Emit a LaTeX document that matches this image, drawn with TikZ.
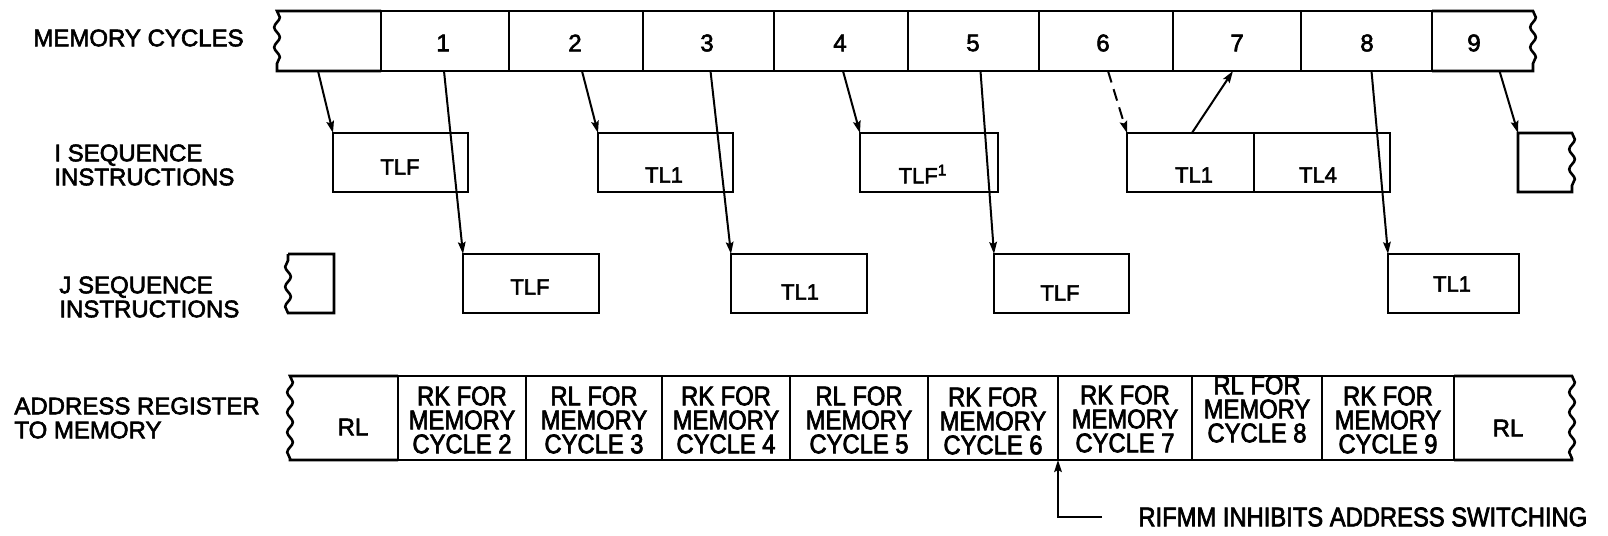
\documentclass[tikz,border=0pt]{standalone}
\usepackage{fontspec}
\setmainfont{Liberation Sans}[FakeBold=2.5]
\newfontfamily\narrowsans{Liberation Sans}[FakeStretch=0.88, FakeBold=2.5]
\usetikzlibrary{positioning, arrows.meta, decorations.pathmorphing}

\begin{document}
\begin{tikzpicture}[x=0.5pt, y=-0.5pt, >=Stealth,
    font=\fontsize{12}{12}\selectfont,
    box/.style={draw, line width=1.3pt, inner sep=0pt, outer sep=0pt},
    ghost/.style={inner sep=0pt, outer sep=0pt},
    frame/.style={line width=1.3pt},
    wave/.style={decoration={snake, amplitude=1.4pt, segment length=10pt}},
    tag/.style={inner sep=0pt, font=\fontsize{11}{12}\selectfont},
    cellnote/.style={inner sep=0pt, align=center, font=\narrowsans\fontsize{13.5}{12}\selectfont},
    link/.style={line width=1pt, -{Stealth[length=6pt, width=3.8pt, inset=1pt]}}]
  \useasboundingbox (0,0) rectangle (1608,536);

  % Row labels
  \node[anchor=west, inner sep=0pt] (lmem) at (33,38) {MEMORY CYCLES};
  \node[anchor=west, inner sep=0pt, align=left] (lseqi) at (54,165) {I SEQUENCE\\INSTRUCTIONS};
  \node[anchor=west, inner sep=0pt, align=left] (lseqj) at (59,297) {J SEQUENCE\\INSTRUCTIONS};
  \node[anchor=west, inner sep=0pt, align=left] (laddr) at (14,418) {ADDRESS REGISTER\\TO MEMORY};

  % Memory cycles
  \foreach \name/\s/\e/\sty in {m0/277/381/ghost, m1/381/509/box, m2/509/643/box,
      m3/643/774/box, m4/774/908/box, m5/908/1039/box, m6/1039/1173/box,
      m7/1173/1301/box, m8/1301/1432/box, m9/1432/1533/ghost}
    \node[\sty, minimum width={(\e-\s)*0.5pt}, minimum height=30pt] (\name) at ({(\s+\e)/2}, 41) {};
  \draw[frame] (m1.north west) -- (m0.north west) decorate[wave]{-- (m0.south west)} -- (m1.south west);
  \draw[frame] (m9.north west) -- (m9.north east) decorate[wave]{-- (m9.south east)} -- (m9.south west);
  \foreach \x/\txt in {443/1, 575/2, 707/3, 840/4, 973/5, 1103/6, 1237/7, 1367/8, 1474/9}
    \node[inner sep=0pt] (n\txt) at (\x, 43) {\txt};

  % I sequence
  \foreach \name/\s/\e/\tx/\ty/\txt in {I0/333/468/400/167/TLF, I1/598/733/664/175/TL1,
      I2/860/998/923/174/TLF\textsuperscript{1}, I3/1127/1254/1194/175/TL1, I4/1254/1390/1318/175/TL4}{
    \node[box, minimum width={(\e-\s)*0.5pt}, minimum height=29.5pt] (\name) at ({(\s+\e)/2}, 162.5) {};
    \node[tag] (t\name) at (\tx, \ty) {\txt};
  }
  \node[ghost, minimum width=27pt, minimum height=29.5pt] (I5) at (1545, 162.5) {};
  \draw[frame] (I5.south west) -- (I5.north west) -- (I5.north east) decorate[wave]{-- (I5.south east)} -- cycle;

  % J sequence
  \node[ghost, minimum width=23pt, minimum height=29.5pt] (J0) at (311, 283.5) {};
  \draw[frame] (J0.north west) -- (J0.north east) -- (J0.south east) -- (J0.south west) decorate[wave]{-- (J0.north west)};
  \foreach \name/\s/\e/\tx/\ty/\txt in {J1/463/599/530/287/TLF, J2/731/867/800/292/TL1,
      J3/994/1129/1060/293/TLF, J4/1388/1519/1452/284/TL1}{
    \node[box, minimum width={(\e-\s)*0.5pt}, minimum height=29.5pt] (\name) at ({(\s+\e)/2}, 283.5) {};
    \node[tag] (t\name) at (\tx, \ty) {\txt};
  }

  % Address register
  \foreach \name/\s/\e in {a0/290/398, a9/1454/1572}
    \node[ghost, minimum width={(\e-\s)*0.5pt}, minimum height=42pt] (\name) at ({(\s+\e)/2}, 418) {};
  \draw[frame] (a0.north east) -- (a0.north west) decorate[wave]{-- (a0.south west)} -- (a0.south east);
  \draw[frame] (a9.north west) -- (a9.north east) decorate[wave]{-- (a9.south east)} -- (a9.south west);
  \node[inner sep=0pt] (ta0) at (353, 427) {RL};
  \node[inner sep=0pt] (ta9) at (1508, 428) {RL};
  \foreach \name/\s/\e/\ty/\reg/\cyc in {a1/398/526/420/RK/2, a2/526/662/420/RL/3,
      a3/662/790/420/RK/4, a4/790/928/420/RL/5, a5/928/1058/421/RK/6,
      a6/1058/1192/419/RK/7, a7/1192/1322/409/RL/8, a8/1322/1454/420/RK/9}{
    \node[box, minimum width={(\e-\s)*0.5pt}, minimum height=42pt] (\name) at ({(\s+\e)/2}, 418) {};
    \node[cellnote] (t\name) at ({(\s+\e)/2}, \ty) {\reg{} FOR\\MEMORY\\CYCLE \cyc};
  }

  % Fetch arrows
  \foreach \from/\dx/\to in {m0/-11/I0, m1/-1/J1, m2/6/I1, m3/2/J2, m4/2/I2,
      m5/7/J3, m8/5/J4, m9/17/I5}
    \draw[link] ([xshift=\dx*0.5pt]\from.south) -- (\to.north west);
  \draw[link, dash pattern=on 6pt off 3.5pt] ([xshift=1pt]m6.south) -- (I3.north west);
  \draw[link] ([xshift=0.7pt]I3.north) -- ([xshift=-2pt]m7.south);

  % Note
  \node[anchor=west, inner sep=0pt, font=\narrowsans\fontsize{13.5}{12}\selectfont] (note) at (1138, 517) {RIFMM INHIBITS ADDRESS SWITCHING};
  \draw[link] ([xshift=-18pt]note.west) -| (a6.south west);
\end{tikzpicture}
\end{document}
